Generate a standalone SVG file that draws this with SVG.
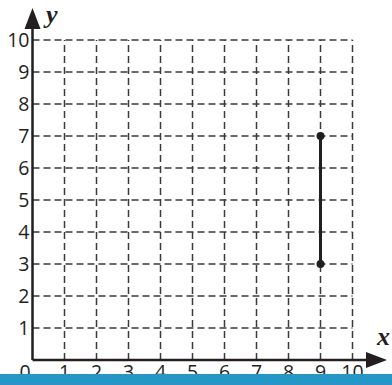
<svg xmlns="http://www.w3.org/2000/svg" width="392" height="385" viewBox="0 0 392 385">
<style>
.grid{stroke:#3a3a3a;stroke-width:1.5;stroke-dasharray:7,4;fill:none}
.axis{stroke:#231f20;stroke-width:2.5;fill:none}
.lbl{font-family:"Open Sans","Liberation Sans",sans-serif;font-size:19.5px;fill:#231f20}
.var{font-family:"Liberation Serif",serif;font-style:italic;font-weight:bold;font-size:26px;fill:#231f20}
</style>
<rect width="392" height="385" fill="#fff"/>
<g id="grid">
<path class="grid" d="M64.5 360V40M96.5 360V40M128.5 360V40M160.5 360V40M192.5 360V40M224.5 360V40M256.5 360V40M288.5 360V40M320.5 360V40M352.5 360V40"/>
<path class="grid" d="M32.5 328H352.5M32.5 296H352.5M32.5 264H352.5M32.5 232H352.5M32.5 200H352.5M32.5 168H352.5M32.5 136H352.5M32.5 104H352.5M32.5 72H352.5M32.5 40H352.5"/>
</g>
<g id="axes">
<path class="axis" d="M32.5 360V26M32.5 360H368"/>
<path d="M32.5 8L24.5 29L40.5 29Z" fill="#231f20"/>
<path d="M387 360L366 352L366 368Z" fill="#231f20"/>
<text class="var" x="46" y="23">y</text>
<text class="var" x="377" y="345">x</text>
</g>
<g id="ylabels" class="lbl" text-anchor="end">
<text x="29.5" y="47">10</text>
<text x="29.5" y="79">9</text>
<text x="29.5" y="111">8</text>
<text x="29.5" y="143">7</text>
<text x="29.5" y="175">6</text>
<text x="29.5" y="207">5</text>
<text x="29.5" y="239">4</text>
<text x="29.5" y="271">3</text>
<text x="29.5" y="303">2</text>
<text x="29.5" y="335">1</text>
</g>
<g id="xlabels" class="lbl" text-anchor="middle">
<text x="25" y="379">0</text>
<text x="64.5" y="379">1</text>
<text x="96.5" y="379">2</text>
<text x="128.5" y="379">3</text>
<text x="160.5" y="379">4</text>
<text x="192.5" y="379">5</text>
<text x="224.5" y="379">6</text>
<text x="256.5" y="379">7</text>
<text x="288.5" y="379">8</text>
<text x="320.5" y="379">9</text>
<text x="352.5" y="379">10</text>
</g>
<g id="segment">
<line x1="320.5" y1="136" x2="320.5" y2="264" stroke="#231f20" stroke-width="3"/>
<circle cx="320.5" cy="136" r="4" fill="#231f20"/>
<circle cx="320.5" cy="264" r="4" fill="#231f20"/>
</g>
<rect id="band" x="0" y="374" width="392" height="11" fill="#2597c6"/>
</svg>
